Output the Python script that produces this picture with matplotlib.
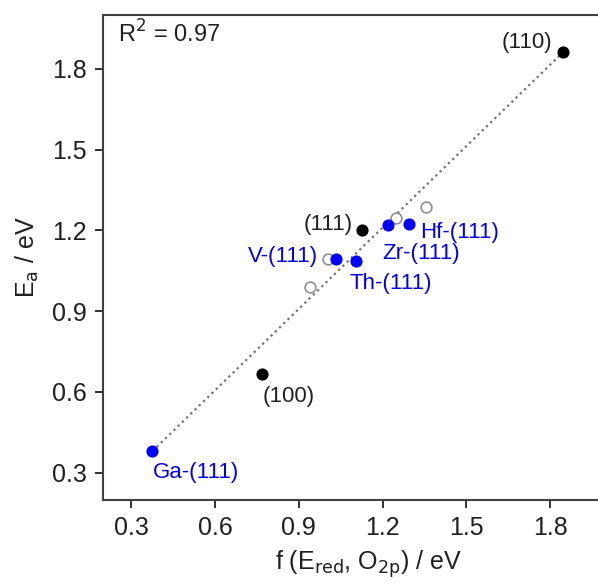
import matplotlib
matplotlib.use('Agg')
import matplotlib.pyplot as plt

plt.rcParams['font.family'] = ['Liberation Sans', 'DejaVu Sans']

# surfaces, pristine
black_x = [1.848, 1.128, 0.770]
black_y = [1.863, 1.200, 0.665]
black_labels = ['(110)', '(111)', '(100)']
black_offsets = [(-11, 9, 'right'), (-10, 6, 'right'), (0, -22, 'left')]

# doped (111)
blue_x = [1.218, 1.294, 1.033, 1.104, 0.376]
blue_y = [1.219, 1.222, 1.092, 1.086, 0.380]
blue_labels = ['Zr-(111)', 'Hf-(111)', 'V-(111)', 'Th-(111)', 'Ga-(111)']
blue_offsets = [(-5, -28, 'left'), (11, -8, 'left'), (-18, 3, 'right'), (-6, -22, 'left'), (0, -21, 'left')]

# open grey circles
open_x = [1.247, 1.356, 1.005, 0.939]
open_y = [1.245, 1.286, 1.092, 0.988]

# linear fit
fit_x = [0.376, 1.848]
fit_y = [0.380, 1.863]

fig = plt.figure(figsize=(5.98, 5.86), dpi=100)
ax = fig.add_axes([0.1728, 0.1476, 0.887, 0.8268])

ax.plot(fit_x, fit_y, color='#707070', linestyle=':', linewidth=1.6, zorder=1)
ax.scatter(open_x, open_y, s=60, facecolors='white', edgecolors='#909090', linewidths=1.2, zorder=2)
ax.scatter(black_x, black_y, s=60, color='black', zorder=3)
ax.scatter(blue_x, blue_y, s=60, color='#0000ff', zorder=3)

for x, y, lab, (dx, dy, ha) in zip(black_x, black_y, black_labels, black_offsets):
    ax.annotate(lab, (x, y), xytext=(dx, dy), textcoords='offset pixels',
                ha=ha, va='center', fontsize=16, color='#202020')
for x, y, lab, (dx, dy, ha) in zip(blue_x, blue_y, blue_labels, blue_offsets):
    ax.annotate(lab, (x, y), xytext=(dx, dy), textcoords='offset pixels',
                ha=ha, va='center', fontsize=16, color='#0000ee')

ax.text(0.027, 0.96, r'R$^2$ = 0.97', transform=ax.transAxes, fontsize=17,
        ha='left', va='center', color='#202020')

ax.set_xlim(0.2, 2.1)
ax.set_ylim(0.2, 2.0)
ax.set_xticks([0.3, 0.6, 0.9, 1.2, 1.5, 1.8])
ax.set_yticks([0.3, 0.6, 0.9, 1.2, 1.5, 1.8])
ax.tick_params(direction='out', length=6, width=1.3, labelsize=18, colors='#202020', pad=6)
for sp in ax.spines.values():
    sp.set_linewidth(1.5)
    sp.set_color('#404040')

ax.set_xlabel(r'f (E$_{\mathrm{red}}$, O$_{\mathrm{2p}}$) / eV', fontsize=18, color='#202020', labelpad=6)
ax.set_ylabel(r'E$_{\mathrm{a}}$ / eV', fontsize=18, color='#202020', labelpad=8)

fig.savefig('out.png', dpi=100)
